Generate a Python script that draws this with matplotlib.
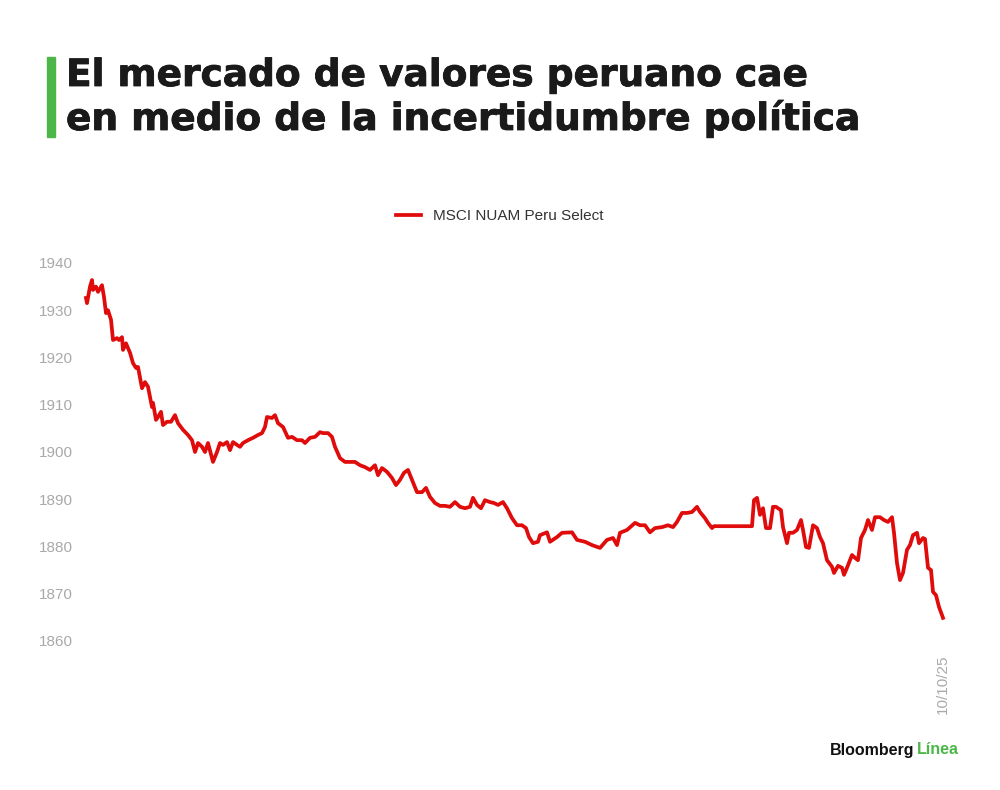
import matplotlib
matplotlib.use("Agg")
import matplotlib.pyplot as plt
import matplotlib.patheffects as pe

# time steps (arbitrary units along the session) and index level
t = [0, 1, 4, 6, 7, 10, 12, 16, 18, 20, 22, 25, 27, 31, 33, 36, 37, 40, 44, 47,
     50, 52, 56, 59, 62, 66, 67, 70, 72, 75, 77, 81, 85, 89, 92, 97, 102, 106, 109, 112,
     116, 119, 122, 127, 131, 134, 137, 141, 144, 147, 151, 154, 157, 162, 167, 172, 176, 179, 181, 186,
     189, 192, 197, 202, 206, 211, 216, 219, 224, 229, 234, 237, 242, 246, 249, 254, 259, 264, 269, 274,
     279, 284, 289, 292, 296, 301, 306, 310, 314, 318, 322, 326, 331, 336, 340, 344, 349, 354, 359, 364,
     369, 374, 379, 384, 387, 391, 395, 399, 404, 408, 412, 417, 421, 426, 431, 436, 440, 443, 447, 452,
     454, 461, 464, 471, 476, 486, 491, 499, 506, 514, 521, 527, 531, 534, 541, 549, 554, 559, 564, 569,
     576, 582, 587, 591, 596, 601, 606, 611, 614, 619, 622, 626, 628, 666, 668, 671, 672, 674, 677, 680,
     684, 687, 690, 692, 695, 697, 701, 703, 707, 711, 715, 717, 720, 723, 727, 731, 734, 737, 741, 746,
     748, 752, 756, 758, 761, 766, 769, 772, 775, 779, 782, 786, 789, 794, 798, 802, 806, 808, 811, 814,
     817, 821, 824, 827, 831, 833, 837, 839, 842, 845, 847, 850, 853, 857]
level = [1932.6, 1931.5, 1935.0, 1936.4, 1934.3, 1935.0, 1933.9, 1935.3, 1932.8, 1929.4, 1930.0, 1928.0,
         1923.7, 1924.1, 1923.7, 1924.3, 1921.6, 1923.0, 1921.0, 1918.8, 1917.8, 1918.0, 1913.5, 1914.8,
         1913.8, 1909.5, 1910.4, 1906.8, 1907.4, 1908.5, 1905.7, 1906.4, 1906.4, 1907.8, 1906.1, 1904.7,
         1903.6, 1902.5, 1900.0, 1901.9, 1901.1, 1900.0, 1901.9, 1897.9, 1900.0, 1901.9, 1901.5, 1902.1,
         1900.4, 1902.1, 1901.5, 1901.1, 1901.9, 1902.5, 1903.0, 1903.6, 1904.0, 1905.3, 1907.4, 1907.2,
         1907.8, 1906.1, 1905.3, 1903.0, 1903.2, 1902.5, 1902.5, 1901.9, 1903.0, 1903.2, 1904.2, 1904.0,
         1904.0, 1903.2, 1901.1, 1898.7, 1897.9, 1897.9, 1897.9, 1897.2, 1896.8, 1896.2, 1897.2, 1895.1,
         1896.6, 1895.8, 1894.5, 1893.0, 1894.1, 1895.6, 1896.2, 1894.1, 1891.5, 1891.5, 1892.4, 1890.5,
         1889.2, 1888.6, 1888.6, 1888.4, 1889.4, 1888.4, 1888.1, 1888.4, 1890.3, 1888.8, 1888.1, 1889.8,
         1889.4, 1889.2, 1888.8, 1889.4, 1888.1, 1886.0, 1884.5, 1884.5, 1883.9, 1882.0, 1880.7, 1881.0,
         1882.4, 1883.0, 1881.0, 1882.0, 1882.9, 1883.0, 1881.4, 1881.0, 1880.3, 1879.7, 1881.4, 1881.8,
         1880.3, 1882.9, 1883.5, 1885.0, 1884.5, 1884.5, 1883.0, 1883.9, 1884.1, 1884.5, 1884.1, 1885.2,
         1887.1, 1887.1, 1887.3, 1888.4, 1887.3, 1886.0, 1885.0, 1883.9, 1884.3, 1884.3, 1889.8, 1890.3,
         1889.2, 1886.7, 1888.1, 1883.9, 1883.9, 1888.4, 1888.4, 1888.1, 1887.7, 1884.1, 1880.7, 1882.9,
         1882.9, 1883.5, 1885.6, 1883.5, 1879.9, 1879.7, 1884.5, 1883.9, 1882.0, 1880.7, 1877.1, 1875.7,
         1874.4, 1875.9, 1875.5, 1874.0, 1875.5, 1878.2, 1877.6, 1877.1, 1881.8, 1883.5, 1885.6, 1883.5,
         1886.2, 1886.2, 1885.6, 1885.2, 1886.2, 1882.9, 1876.5, 1872.9, 1874.4, 1879.3, 1880.3, 1882.4,
         1882.9, 1880.7, 1881.8, 1881.6, 1875.5, 1875.0, 1870.4, 1869.7, 1867.2, 1864.9]

y_ticks = [1860, 1870, 1880, 1890, 1900, 1910, 1920, 1930, 1940]
end_label = "10/10/25"
series_name = "MSCI NUAM Peru Select"
title = "El mercado de valores peruano cae\nen medio de la incertidumbre política"

red = "#e00b0b"
green = "#4cb748"
grey = "#a9a9a9"

plt.rcParams["font.family"] = ["Liberation Sans", "DejaVu Sans"]

fig = plt.figure(figsize=(10, 7.9), dpi=100)

# title with green accent bar
fig.patches.append(plt.Rectangle((0.047, 1 - 137 / 790), 0.008, 80 / 790,
                                 transform=fig.transFigure, color=green))
fig.text(0.066, 1 - 58 / 790, title, fontsize=27, fontweight="bold", color="#1a1a1a",
         family="DejaVu Sans", va="top", ha="left", linespacing=1.2,
         path_effects=[pe.withStroke(linewidth=0.6, foreground="#1a1a1a")])

ax = fig.add_axes([86 / 1000, 1 - 641 / 790, 857 / 1000, 378 / 790])
ax.plot(t, level, color=red, lw=2.7, clip_on=False, label=series_name)
ax.set_xlim(t[0], t[-1])
ax.set_ylim(y_ticks[0], y_ticks[-1])
ax.set_yticks(y_ticks)
ax.set_xticks([t[-1]])
ax.set_xticklabels([end_label], rotation=90, va="top", ha="center")
for s in ax.spines.values():
    s.set_visible(False)
ax.tick_params(axis="both", length=0, colors=grey, labelsize=11)
ax.tick_params(axis="y", pad=34)
for lab in ax.get_yticklabels():
    lab.set_ha("left")
ax.tick_params(axis="x", pad=10)

leg = fig.legend(loc="center", bbox_to_anchor=(0.5, 1 - 216 / 790), frameon=False,
                 fontsize=11, handlelength=1.6, handletextpad=0.8)
for txt in leg.get_texts():
    txt.set_color("#333333")

fig.text(0.830, 1 - 750 / 790, "Bloomberg", fontsize=11.5, fontweight="bold", color="#111111",
         va="center", ha="left")
fig.text(0.917, 1 - 750 / 790, "Línea", fontsize=11.5, fontweight="bold", color=green,
         va="center", ha="left")

fig.savefig("out.png", dpi=100)
